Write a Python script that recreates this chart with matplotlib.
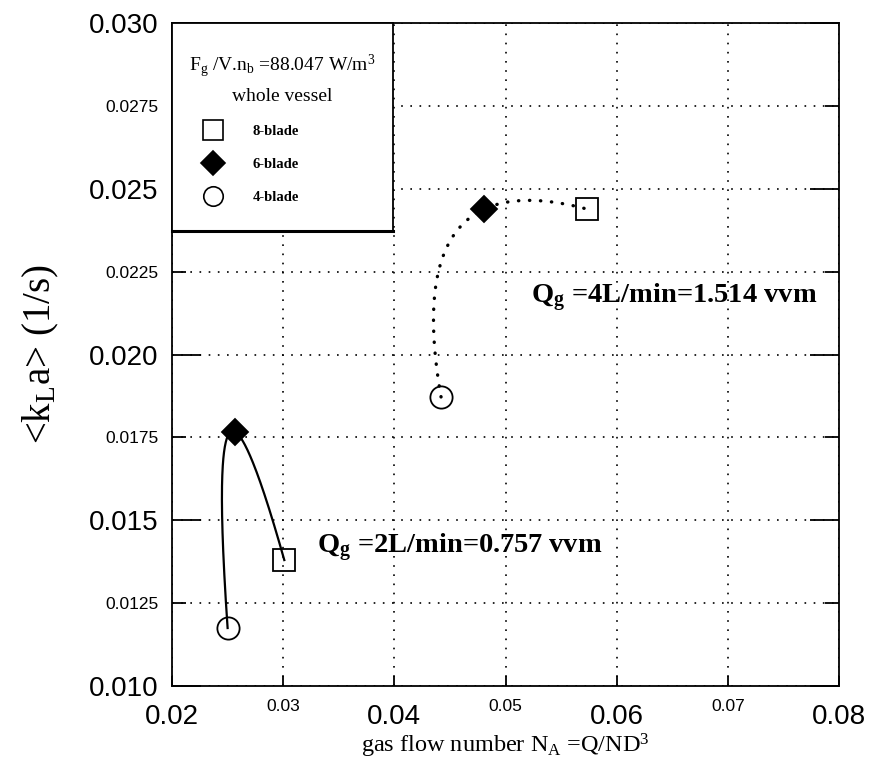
import matplotlib
matplotlib.use("Agg")
import matplotlib.pyplot as plt
import numpy as np
from matplotlib.lines import Line2D

plt.rcParams['mathtext.fontset'] = 'custom'
plt.rcParams['mathtext.rm'] = 'Liberation Serif'
plt.rcParams['mathtext.it'] = 'Liberation Serif:italic'
plt.rcParams['mathtext.bf'] = 'Liberation Serif:bold'

# impellers in order 4-blade, 6-blade, 8-blade
blades = ["4-blade", "6-blade", "8-blade"]
markers = ["o", "D", "s"]
fills = ["none", "black", "none"]

# Qg = 2 L/min
na_2 = [0.0250, 0.0257, 0.0301]
kla_2 = [0.01175, 0.01766, 0.0138]
# Qg = 4 L/min
na_4 = [0.0442, 0.0481, 0.0573]
kla_4 = [0.01872, 0.02439, 0.02439]

xmaj = [0.02, 0.04, 0.06, 0.08]
xmin_ = [0.03, 0.05, 0.07]
ymaj = [0.010, 0.015, 0.020, 0.025, 0.030]
ymin_ = [0.0125, 0.0175, 0.0225, 0.0275]

fig = plt.figure(figsize=(8.71, 7.62), dpi=100)
ax = fig.add_axes([0.1975, 0.0997, 0.7658, 0.8701])
ax.set_xlim(0.02, 0.08)
ax.set_ylim(0.010, 0.030)


def smooth(x, y):
    # quadratic through the three points, parametrised by chord length in axes units
    xn = (np.array(x) - 0.02) / 0.06 * 667
    yn = (np.array(y) - 0.010) / 0.02 * 663
    t = np.concatenate([[0], np.cumsum(np.hypot(np.diff(xn), np.diff(yn)))])
    px = np.polyfit(t, x, 2)
    py = np.polyfit(t, y, 2)
    tt = np.linspace(0, t[-1], 200)
    return np.polyval(px, tt), np.polyval(py, tt)


cx, cy = smooth(na_2, kla_2)
ax.plot(cx, cy, color="black", lw=1.6, zorder=3)
cx, cy = smooth(na_4, kla_4)
ax.plot(cx, cy, color="black", lw=2.4, linestyle=(0, (0.1, 3.2)),
        dash_capstyle="round", zorder=3)

for i in range(3):
    ax.plot([na_2[i], na_4[i]], [kla_2[i], kla_4[i]], linestyle="none",
            marker=markers[i], ms=16 if markers[i] != "D" else 13,
            mfc=fills[i], mec="black", mew=1.3, zorder=4)

ax.text(0.0330, 0.01416, r"$\mathbf{Q_g}$ =2L/min=0.757 vvm", fontsize=20.5,
        fontfamily="Liberation Serif", fontweight="bold", va="center")
ax.text(0.0523, 0.02173, r"$\mathbf{Q_g}$ =4L/min=1.514 vvm", fontsize=20.5,
        fontfamily="Liberation Serif", fontweight="bold", va="center")

ax.set_xticks(xmaj)
ax.set_xticklabels(["%.2f" % v for v in xmaj])
ax.set_xticks(xmin_, minor=True)
ax.set_xticklabels(["%.2f" % v for v in xmin_], minor=True)
ax.set_yticks(ymaj)
ax.set_yticklabels(["%.3f" % v for v in ymaj])
ax.set_yticks(ymin_, minor=True)
ax.set_yticklabels(["%.4f" % v for v in ymin_], minor=True)

for lab in ax.get_xticklabels(which="both") + ax.get_yticklabels(which="both"):
    lab.set_fontfamily("Liberation Sans")
ax.tick_params(which="major", direction="in", width=1.3, labelsize=20)
ax.tick_params(which="minor", direction="in", width=1.3, labelsize=12.5)
ax.tick_params(axis="y", which="major", length=21, right=True, pad=10)
ax.tick_params(axis="y", which="minor", length=10, right=True, pad=10)
ax.tick_params(axis="x", which="major", length=7, pad=13)
ax.tick_params(axis="x", which="minor", length=7, pad=9)

ax.grid(True, which="both", color="black", lw=1.2, linestyle=(0, (1, 4.5)))
for s in ax.spines.values():
    s.set_linewidth(1.3)

ax.set_xlabel(r"gas flow number N$_\mathrm{A}$ =Q/ND$^\mathrm{3}$",
              fontfamily="Liberation Serif", fontsize=17.5, labelpad=1)
ax.set_ylabel(r"<k$_\mathrm{L}$a> (1/s)", fontfamily="Liberation Serif",
              fontsize=28, labelpad=20)

# legend panel in the upper left corner of the plot
lax = fig.add_axes([0.1975, 0.6969, 0.2537, 0.2729], zorder=5)
lax.set_xticks([])
lax.set_yticks([])
for s in lax.spines.values():
    s.set_linewidth(1.3)
lax.spines["bottom"].set_linewidth(2.2)
lax.text(0.50, 0.79, r"F$_\mathrm{g}$ /V.n$_\mathrm{b}$ =88.047 W/m$^\mathrm{3}$",
         fontfamily="Liberation Serif", fontsize=14, ha="center", va="center")
lax.text(0.50, 0.645, "whole vessel", fontfamily="Liberation Serif", fontsize=14,
         ha="center", va="center")

handles = [Line2D([], [], linestyle="none", marker=markers[i], ms=14 if i != 1 else 12,
                  mfc=fills[i], mec="black", mew=1.2) for i in [2, 1, 0]]
lax.legend(handles, [blades[i] for i in [2, 1, 0]], loc="upper left",
           bbox_to_anchor=(0.119, 0.51), borderaxespad=0, borderpad=0,
           frameon=False, prop={"family": "Liberation Serif", "weight": "bold", "size": 10.5},
           labelspacing=1.35, handlelength=2.0, handletextpad=1.74)

fig.savefig("out.png", dpi=100)
